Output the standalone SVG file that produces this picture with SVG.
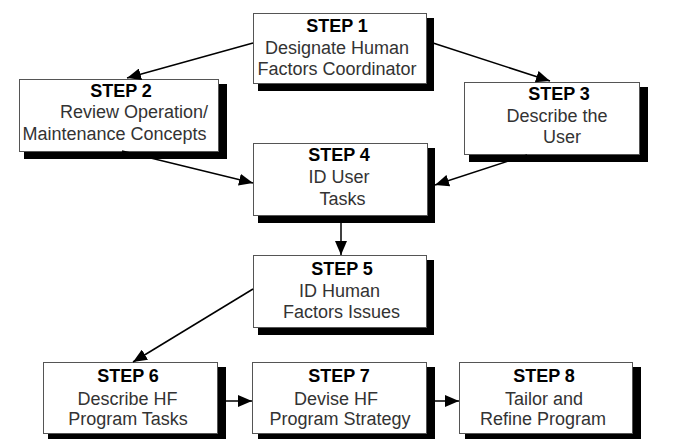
<svg xmlns="http://www.w3.org/2000/svg" width="680" height="439" viewBox="0 0 680 439">
<style>
.bg{fill:#ffffff}
.shadow{fill:#000000}
.box{fill:#ffffff;stroke:#555555;stroke-width:1}
.t{font-family:"Liberation Sans",Arial,Helvetica,sans-serif;font-size:18px;text-anchor:middle;fill:#333333}
.h{font-weight:bold;fill:#000000}
.conn{stroke:#000000;stroke-width:1.5;fill:none;marker-end:url(#arr)}
</style>
<defs>
<marker id="arr" markerUnits="userSpaceOnUse" markerWidth="14" markerHeight="12" refX="14" refY="6" orient="auto">
<path d="M0,0 L14,6 L0,12 z" fill="#000000"/>
</marker>
</defs>
<rect class="bg" x="0" y="0" width="680" height="439"/>
<g id="step1">
<rect class="shadow" x="258" y="18" width="176" height="73"/>
<rect class="box" x="253.5" y="13.5" width="173" height="70"/>
<text class="t h" x="337" y="32">STEP 1</text>
<text class="t" x="337" y="54">Designate Human</text>
<text class="t" x="337" y="75">Factors Coordinator</text>
</g>
<g id="step2">
<rect class="shadow" x="24" y="84" width="203" height="75"/>
<rect class="box" x="19.5" y="79.5" width="199" height="72"/>
<text class="t h" x="121" y="97">STEP 2</text>
<text class="t" x="134" y="118">Review Operation/</text>
<text class="t" x="114.5" y="140">Maintenance Concepts</text>
</g>
<g id="step3">
<rect class="shadow" x="469" y="87" width="179" height="75"/>
<rect class="box" x="464.5" y="82.5" width="175" height="72"/>
<text class="t h" x="559" y="100">STEP 3</text>
<text class="t" x="557" y="122">Describe the</text>
<text class="t" x="562" y="143">User</text>
</g>
<g id="step4">
<rect class="shadow" x="258" y="148" width="177" height="75"/>
<rect class="box" x="253.5" y="143.5" width="174" height="72"/>
<text class="t h" x="339" y="161">STEP 4</text>
<text class="t" x="339" y="183">ID User</text>
<text class="t" x="342.5" y="205">Tasks</text>
</g>
<g id="step5">
<rect class="shadow" x="258" y="260" width="176" height="75"/>
<rect class="box" x="253.5" y="255.5" width="173" height="72"/>
<text class="t h" x="342" y="275">STEP 5</text>
<text class="t" x="339.5" y="297">ID Human</text>
<text class="t" x="341.5" y="318">Factors Issues</text>
</g>
<g id="step6">
<rect class="shadow" x="48" y="367" width="178" height="74"/>
<rect class="box" x="43.5" y="362.5" width="174" height="71"/>
<text class="t h" x="128" y="382">STEP 6</text>
<text class="t" x="127.5" y="405">Describe HF</text>
<text class="t" x="128" y="425">Program Tasks</text>
</g>
<g id="step7">
<rect class="shadow" x="258" y="367" width="177" height="74"/>
<rect class="box" x="252.5" y="362.5" width="174" height="71"/>
<text class="t h" x="339" y="382">STEP 7</text>
<text class="t" x="336" y="405">Devise HF</text>
<text class="t" x="340" y="425">Program Strategy</text>
</g>
<g id="step8">
<rect class="shadow" x="465" y="367" width="176" height="74"/>
<rect class="box" x="459.5" y="362.5" width="173" height="71"/>
<text class="t h" x="544" y="382">STEP 8</text>
<text class="t" x="544" y="405">Tailor and</text>
<text class="t" x="543" y="425">Refine Program</text>
</g>
<g id="connectors">
<line class="conn" x1="253" y1="43" x2="127" y2="78"/>
<line class="conn" x1="433" y1="43" x2="550" y2="81"/>
<line class="conn" x1="122" y1="151" x2="253" y2="183"/>
<line class="conn" x1="527" y1="155" x2="435" y2="185"/>
<line class="conn" x1="341" y1="216" x2="341" y2="255"/>
<line class="conn" x1="253" y1="289" x2="133" y2="362"/>
<line class="conn" x1="218" y1="401" x2="252" y2="401"/>
<line class="conn" x1="427" y1="401" x2="459" y2="401"/>
</g>
</svg>
